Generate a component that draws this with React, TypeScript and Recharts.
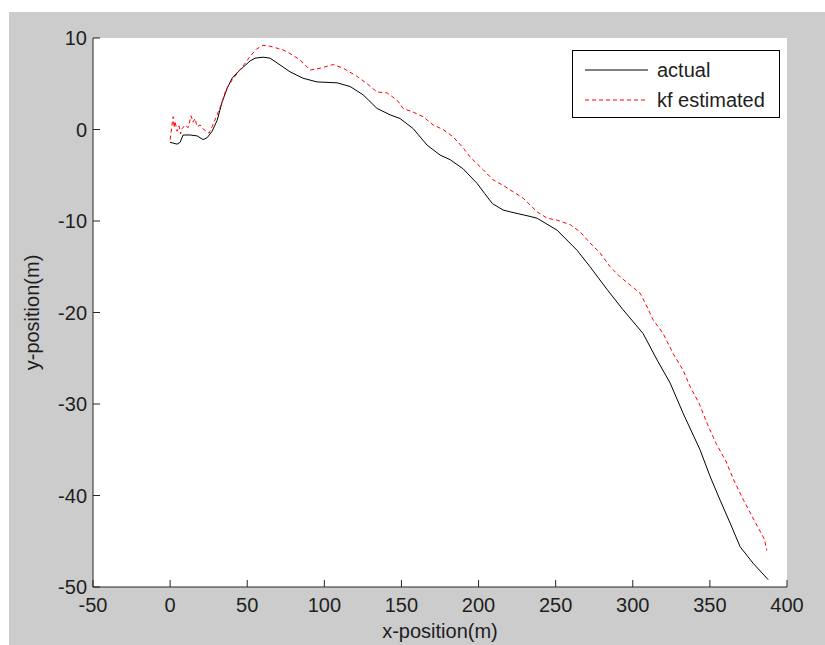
import React, { useMemo } from "react";
import {
  CartesianGrid,
  LineChart,
  Line,
  XAxis,
  YAxis,
  Legend,
  Label,
} from "recharts";

const actualX = [
  0, 4.5, 6.5, 8.4, 13, 17.5, 21.4, 24, 27.2, 30.5, 33.7, 37, 40.2, 44, 47.3, 51.9, 55.1, 60.3,
  64.8, 70, 77.8, 86.2, 95.3, 108.3, 116.7, 125.1, 134.2, 142.7, 149.1, 157.6, 166.6, 175.1,
  181.6, 190.0, 199.1, 204.0, 209.0, 215.9, 220.5, 233.4, 238.0, 250.9, 263.9, 272.3, 283.4, 293.7,
  306.7, 315.8, 324.2, 332.6, 343.6, 350.1, 356.6, 363.1, 369.6, 378.0, 387.8,
];
const actualY = [
  -1.4, -1.6, -1.4, -0.6, -0.6, -0.7, -1.1, -0.9, -0.2, 1.0, 3.0, 4.5, 5.6, 6.3, 6.8, 7.5, 7.8, 7.9,
  7.8, 7.2, 6.3, 5.6, 5.2, 5.1, 4.7, 3.8, 2.3, 1.6, 1.2, 0.1, -1.7, -2.8,
  -3.3, -4.3, -5.9, -7.0, -8.1, -8.8, -9.0, -9.5, -9.7, -11.0, -13.2, -15.0, -17.5, -19.7,
  -22.3, -25.2, -27.7, -31.0, -35.0, -37.9, -40.5, -43.0, -45.6, -47.4, -49.2,
];

const kfX = [
  0, 0.7, 1.3, 2, 2.6, 3.2, 4.5, 5.8, 6.8, 7.8, 9.7, 11.7, 13.6, 14.9, 16.2, 17.5, 19.5, 21.0,
  22.7, 25.3, 27.2, 30.5, 33.7, 36.3, 40.2, 44.7, 48, 51.9, 56, 60.3, 64.8, 73.3, 77.8, 84.3,
  90.8, 97.3, 105.7, 112.2, 121.3, 127.7, 134.2, 140.7, 147.2, 151.1, 157.6, 164.1, 170.5,
  177.0, 183.5, 190.0, 194.5, 203.0, 209.4, 215.9, 222.4, 228.9, 238.0, 244.5, 250.9, 259.4,
  265.9, 272.3, 278.8, 285.3, 291.8, 298.3, 304.8, 309.3, 313.2, 319.7, 326.2, 332.6, 337.2,
  343.2, 348.4, 354.0, 360.5, 365.7, 371.8, 378.7, 385.4, 386.9,
];
const kfY = [
  -1.1, -0.2, 0.6, 1.4, 0.2, 0.9, -0.2, 0.4, -0.5, 0.1, 0.5, 0.2, 1.5, 0.8, 1.2, 0.3, 0.5, 0.1,
  -0.1, -0.4, 0.3, 1.6, 3.0, 4.4, 5.4, 6.4, 7.1, 8.0, 8.8, 9.2, 9.1, 8.7, 8.3, 7.6,
  6.5, 6.7, 7.1, 6.7, 5.8, 5.0, 4.1, 4.0, 3.2, 2.3, 1.9, 1.4, 0.5,
  0.0, -0.8, -2.0, -3.0, -4.4, -5.5, -6.1, -6.8, -7.5, -9.0, -9.7, -9.9, -10.4,
  -11.2, -12.4, -13.5, -15.0, -16.1, -17.0, -17.9, -19.4, -20.8, -22.3, -24.5, -26.3, -28.1,
  -30.0, -32.2, -34.3, -36.3, -38.4, -40.5, -42.7, -44.8, -46.0,
];

const xTicks = [-50, 0, 50, 100, 150, 200, 250, 300, 350, 400];
const yTicks = [-50, -40, -30, -20, -10, 0, 10];

const FONT = '"Liberation Sans", Arial, sans-serif';
const TEXT_COLOR = "#1e1e1e";
const AXIS_COLOR = "#262626";
const TICK_LEN = 7;

function zip(xs: number[], ys: number[]) {
  return xs.map((x, i) => ({ x, y: ys[i] }));
}

function BottomTick(props: any) {
  const { x, y, payload } = props;
  return (
    <g>
      <line x1={x} x2={x} y1={y} y2={y - TICK_LEN} stroke={AXIS_COLOR} />
      <text x={x} y={y + 25} textAnchor="middle" fontSize={20} fontFamily={FONT} fill={TEXT_COLOR}>
        {payload.value}
      </text>
    </g>
  );
}

function LeftTick(props: any) {
  const { x, y, payload } = props;
  return (
    <g>
      <line x1={x} x2={x + TICK_LEN} y1={y} y2={y} stroke={AXIS_COLOR} />
      <text x={x - 6} y={y + 7} textAnchor="end" fontSize={20} fontFamily={FONT} fill={TEXT_COLOR}>
        {payload.value}
      </text>
    </g>
  );
}

function TopTick(props: any) {
  const { x, y } = props;
  return <line x1={x} x2={x} y1={y} y2={y + TICK_LEN} stroke={AXIS_COLOR} />;
}

function RightTick(props: any) {
  const { x, y } = props;
  return <line x1={x} x2={x - TICK_LEN} y1={y} y2={y} stroke={AXIS_COLOR} />;
}

function MatlabLegend({ payload }: any) {
  return (
    <div
      style={{
        width: 208,
        height: 68,
        boxSizing: "border-box",
        border: "1px solid #000",
        background: "#fff",
        paddingTop: 4,
        fontFamily: FONT,
      }}
    >
      {(payload || []).map((entry: any) => (
        <div key={entry.value} style={{ display: "flex", alignItems: "center", height: 30 }}>
          <svg width={76} height={30} style={{ display: "block" }}>
            <line
              x1={12}
              x2={75}
              y1={15}
              y2={15}
              stroke={entry.color}
              strokeDasharray={entry.payload?.strokeDasharray}
            />
          </svg>
          <span style={{ marginLeft: 8, fontSize: 20, color: TEXT_COLOR, lineHeight: "30px" }}>
            {entry.value}
          </span>
        </div>
      ))}
    </div>
  );
}

export default function App() {
  const actualData = useMemo(() => zip(actualX, actualY), []);
  const kfData = useMemo(() => zip(kfX, kfY), []);

  return (
    <div
      style={{
        position: "absolute",
        left: 9,
        top: 12,
        width: 816,
        height: 633,
        background: "#cccccc",
        fontFamily: FONT,
      }}
    >
      <LineChart width={816} height={633} margin={{ top: 26, right: 38, left: 0, bottom: 0 }}>
        <CartesianGrid horizontal={false} vertical={false} fill="#ffffff" stroke="none" />
        <XAxis
          type="number"
          dataKey="x"
          domain={[-50, 400]}
          ticks={xTicks}
          interval={0}
          allowDataOverflow
          height={58}
          tickSize={0}
          tickMargin={0}
          tickLine={false}
          axisLine={{ stroke: AXIS_COLOR }}
          tick={<BottomTick />}
        >
          <Label
            value="x-position(m)"
            position="insideBottom"
            offset={7}
            fill={TEXT_COLOR}
            style={{ fontSize: 20, fontFamily: FONT }}
          />
        </XAxis>
        <XAxis
          xAxisId="top"
          orientation="top"
          type="number"
          dataKey="x"
          domain={[-50, 400]}
          ticks={xTicks}
          interval={0}
          allowDataOverflow
          height={0}
          tickSize={0}
          tickMargin={0}
          tickLine={false}
          axisLine={{ stroke: AXIS_COLOR }}
          tick={<TopTick />}
        />
        <YAxis
          type="number"
          domain={[-50, 10]}
          ticks={yTicks}
          interval={0}
          allowDataOverflow
          width={84}
          tickSize={0}
          tickMargin={0}
          tickLine={false}
          axisLine={{ stroke: AXIS_COLOR }}
          tick={<LeftTick />}
        >
          <Label
            value="y-position(m)"
            angle={-90}
            position="insideLeft"
            offset={23}
            fill={TEXT_COLOR}
            style={{ fontSize: 20, fontFamily: FONT, textAnchor: "middle" }}
          />
        </YAxis>
        <YAxis
          yAxisId="right"
          orientation="right"
          type="number"
          domain={[-50, 10]}
          ticks={yTicks}
          interval={0}
          allowDataOverflow
          width={0}
          tickSize={0}
          tickMargin={0}
          tickLine={false}
          axisLine={{ stroke: AXIS_COLOR }}
          tick={<RightTick />}
        />
        <Legend
          layout="horizontal"
          verticalAlign="middle"
          align="center"
          content={<MatlabLegend />}
          wrapperStyle={{ left: 563, top: 38, width: 208, height: 68 }}
        />
        <Line
          data={actualData}
          type="linear"
          dataKey="y"
          name="actual"
          stroke="#000000"
          strokeWidth={1}
          dot={false}
          isAnimationActive={false}
        />
        <Line
          data={kfData}
          type="linear"
          dataKey="y"
          name="kf estimated"
          stroke="#ff0000"
          strokeWidth={1}
          strokeDasharray="4 3"
          dot={false}
          isAnimationActive={false}
        />
      </LineChart>
    </div>
  );
}
